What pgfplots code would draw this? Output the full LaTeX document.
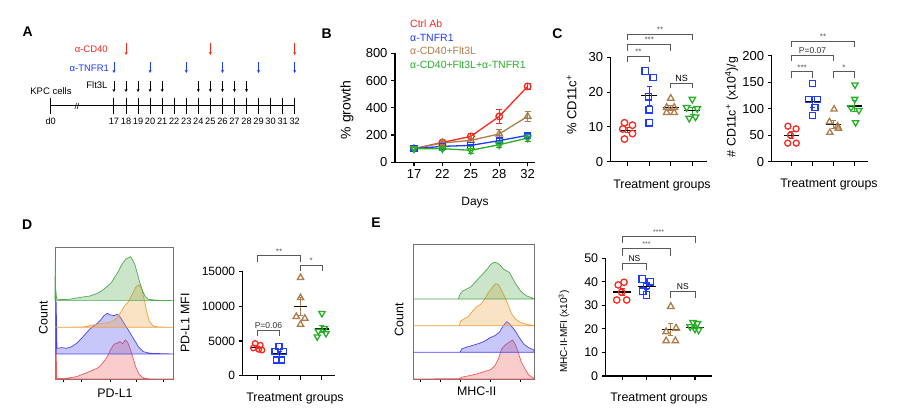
\documentclass[border=0pt]{standalone}
\usepackage{pgfplots}
\pgfplotsset{compat=1.18}
\usepackage{fontspec}
\setmainfont{Liberation Sans}
\usetikzlibrary{arrows.meta}
\definecolor{cR}{RGB}{250,40,30}
\definecolor{cB}{RGB}{30,60,250}
\definecolor{cN}{RGB}{175,125,75}
\definecolor{cG}{RGB}{40,175,40}
\definecolor{hG}{RGB}{80,170,80}
\definecolor{hO}{RGB}{240,160,60}
\definecolor{hB}{RGB}{70,70,240}
\definecolor{hR}{RGB}{240,90,90}
\newcommand{\fs}[1]{\fontsize{#1}{#1}\selectfont}
\pgfplotsset{
  /pgf/number format/assume math mode=true,
  /pgf/number format/1000 sep={},
  dotax/.style={scale only axis, anchor=south west, axis x line*=bottom, axis y line*=left,
    axis line style={line width=1.1pt}, tick style={black, line width=1.1pt},
    tick align=outside, major tick length=4pt, xtick={0,1,2,3}, xticklabels={},
    ymin=0, clip=false, scaled y ticks=false,
    yticklabel style={font=\fs{13}}, xticklabel style={font=\fs{13}}},
  histax/.style={scale only axis, anchor=south west, y dir=reverse,
    axis line style={black!55, line width=0.8pt},
    ytick=\empty, xticklabels={}, xtick pos=bottom, tick align=outside,
    major tick length=2.5pt, minor tick length=1.5pt, minor x tick num=4,
    tick style={black, line width=0.5pt}, clip=false},
  mR/.style={cR, only marks, mark=o, mark options={line width=1.3pt}},
  mB/.style={cB, only marks, mark=square, mark options={line width=1.3pt}},
  mN/.style={cN, only marks, mark=triangle, mark options={line width=1.3pt}},
  mG/.style={cG, only marks, mark=triangle, mark options={line width=1.3pt, rotate=180}},
  meanl/.style={black, line width=1.1pt},
  br/.style={black!65, line width=0.7pt},
  sem/.style={color=#1, mark=none, line width=1pt, error bars/.cd, y dir=both, y explicit,
    error bar style={line width=1pt}, error mark options={rotate=90, mark size=2.5pt, line width=1pt}},
}
\begin{document}
\begin{tikzpicture}
\useasboundingbox (0pt,0pt) rectangle (909pt,415pt);
\fill[white] (0pt,0pt) rectangle (909pt,415pt);

% ---------------- Panel A ----------------
\begin{axis}[at={(50.7pt,289pt)}, anchor=south west, scale only axis, width=244pt, height=90pt,
  xmin=11.75, xmax=32, ymin=-20, ymax=70, axis lines=none, clip=false]
\addplot[black, line width=1pt] coordinates {(11.75,0) (32,0)};
\addplot[black, line width=1pt, quiver={u=0,v=16}] coordinates {(11.75,-8) (17,-8) (18,-8) (19,-8) (20,-8) (21,-8) (22,-8) (23,-8) (24,-8) (25,-8) (26,-8) (27,-8) (28,-8) (29,-8) (30,-8) (31,-8) (32,-8)};
\addplot[black, line width=0.8pt, quiver={u=0,v=-11}, -{Stealth[length=3pt,width=3pt]}] coordinates {(17,25) (18,25) (19,25) (20,25) (21,25) (24,25) (25,25) (26,25) (27,25) (28,25)};
\addplot[cB, line width=0.8pt, quiver={u=0,v=-11}, -{Stealth[length=3pt,width=3pt]}] coordinates {(17,44) (20,44) (23,44) (26,44) (29,44) (32,44)};
\addplot[cR, line width=0.8pt, quiver={u=0,v=-12}, -{Stealth[length=3pt,width=3pt]}] coordinates {(18,63) (25,63) (32,63)};
\addplot[draw=none, point meta=explicit symbolic, nodes near coords,
  every node near coord/.append style={font=\fs{9.2}, anchor=center, inner sep=0pt}]
  coordinates {(11.75,-15)[d0] (17,-15)[17] (18,-15)[18] (19,-15)[19] (20,-15)[20] (21,-15)[21] (22,-15)[22] (23,-15)[23] (24,-15)[24] (25,-15)[25] (26,-15)[26] (27,-15)[27] (28,-15)[28] (29,-15)[29] (30,-15)[30] (31,-15)[31] (32,-15)[32]};
\node[font=\fs{8.5}] at (axis cs:13.93,0) {//};
\node[font=\fs{9.5}] at (axis cs:11.77,15) {KPC cells};
\node[font=\fs{9.5}] at (axis cs:15.59,21) {Flt3L};
\node[font=\fs{9.5}, text=cB, anchor=east, inner sep=0pt] at (axis cs:16.6,38) {α-TNFR1};
\node[font=\fs{9.5}, text=cR, anchor=east, inner sep=0pt] at (axis cs:16.5,57) {α-CD40};
\end{axis}

% ---------------- Panel B ----------------
\begin{axis}[dotax, at={(395pt,252.7pt)}, width=140pt, height=109pt,
  xmin=-0.67, xmax=4.26, ymax=800, ytick={0,200,400,600,800},
  xtick={0,1,2,3,4}, xticklabels={17,22,25,28,32}]
\addplot[cR, line width=1.3pt, mark=o, mark size=3.3pt, mark options={line width=1.3pt},
  error bars/.cd, y dir=both, y explicit, error bar style={line width=1pt}, error mark options={rotate=90, mark size=3pt, line width=1pt}]
  coordinates {(0,100)+-(0,6) (1,146)+-(0,12) (2,190)+-(0,18) (3,337)+-(0,51) (4,557)+-(0,24)};
\addplot[cN, line width=1.3pt, mark=triangle, mark size=3.8pt, mark options={line width=1.3pt},
  error bars/.cd, y dir=both, y explicit, error bar style={line width=1pt}, error mark options={rotate=90, mark size=3pt, line width=1pt}]
  coordinates {(0,100)+-(0,6) (1,142)+-(0,10) (2,161)+-(0,15) (3,208)+-(0,30) (4,337)+-(0,39)};
\addplot[cB, line width=1.3pt, mark=square, mark size=3pt, mark options={line width=1.3pt},
  error bars/.cd, y dir=both, y explicit, error bar style={line width=1pt}, error mark options={rotate=90, mark size=3pt, line width=1pt}]
  coordinates {(0,100)+-(0,6) (1,117)+-(0,8) (2,124)+-(0,10) (3,159)+-(0,12) (4,198)+-(0,15)};
\addplot[cG, line width=1.3pt, mark=triangle, mark size=3.8pt, mark options={line width=1.3pt, rotate=180},
  error bars/.cd, y dir=both, y explicit, error bar style={line width=1pt}, error mark options={rotate=90, mark size=3pt, line width=1pt}]
  coordinates {(0,100)+-(0,6) (1,100)+-(0,10) (2,88)+-(0,25) (3,129)+-(0,20) (4,178)+-(0,25)};
\end{axis}

% ---------------- Panel C left ----------------
\begin{axis}[dotax, at={(610.7pt,253.3pt)}, width=96pt, height=104.3pt,
  xmin=-0.79, xmax=3.67, ymax=30, ytick={0,10,20,30}]
\addplot[mR, mark size=3.3pt] coordinates {(-0.15,11.2) (0.22,10.5) (-0.23,9.4) (0.22,8.1) (-0.15,6.5)};
\addplot[mB, mark size=3.2pt] coordinates {(0.81,26.1) (1.19,24.2) (0.97,18.7) (1,14.9) (1,11.2)};
\addplot[mN, mark size=3.8pt] coordinates {(2,18.2) (1.81,15.6) (2.16,15.6) (1.81,14.1) (2.16,14.1)};
\addplot[mG, mark size=3.8pt] coordinates {(3,18) (2.74,15.6) (3.23,15.3) (2.86,12.5) (3.15,12.9)};
\addplot[sem=cB] coordinates {(1,19.0)+-(0,2.7)};
\addplot[sem=cN] coordinates {(2,15.5)+-(0,0.8)};
\addplot[sem=cG] coordinates {(3,14.7)+-(0,1.0)};
\addplot[sem=cR] coordinates {(0,9.1)+-(0,0.8)};
\addplot[meanl] coordinates {(-0.37,9.1) (0.37,9.1)};
\addplot[meanl] coordinates {(0.63,19.0) (1.37,19.0)};
\addplot[meanl] coordinates {(1.63,15.5) (2.37,15.5)};
\addplot[meanl] coordinates {(2.63,14.7) (3.37,14.7)};
\addplot[br] coordinates {(0,28.8) (0,30.4) (1,30.4) (1,28.8)};
\addplot[br] coordinates {(0,31.9) (0,33.8) (2,33.8) (2,31.9)};
\addplot[br] coordinates {(0,35.0) (0,36.7) (3,36.7) (3,35.0)};
\addplot[br] coordinates {(2,21.2) (2,22.6) (3,22.6) (3,21.2)};
\node[font=\fs{8}, text=black!65, anchor=south, inner sep=1pt] at (axis cs:0.5,30.4) {**};
\node[font=\fs{8}, text=black!65, anchor=south, inner sep=1pt] at (axis cs:1,33.8) {***};
\node[font=\fs{8}, text=black!65, anchor=south, inner sep=1pt] at (axis cs:1.5,36.7) {**};
\node[font=\fs{9}, anchor=south, inner sep=1.5pt] at (axis cs:2.5,22.6) {NS};
\end{axis}

% ---------------- Panel C right ----------------
\begin{axis}[dotax, at={(771.7pt,253.3pt)}, width=96.6pt, height=106pt,
  xmin=-0.957, xmax=3.67, ymax=200, ytick={0,50,100,150,200}]
\addplot[mR, mark size=3pt] coordinates {(-0.18,67) (0.21,62) (-0.06,50) (-0.19,35) (0.22,35)};
\addplot[mB, mark size=3pt] coordinates {(1,148) (0.81,118) (1.24,118) (1.11,102.5) (1,87)};
\addplot[mN, mark size=3.6pt] coordinates {(2.03,99) (1.81,75) (2.2,67) (1.83,55) (2.24,63)};
\addplot[mG, mark size=3.6pt] coordinates {(3.03,145) (3.02,118) (2.84,102) (3.22,97) (3.06,74)};
\addplot[sem=cR] coordinates {(0,50)+-(0,6.5)};
\addplot[sem=cB] coordinates {(1,113)+-(0,10)};
\addplot[sem=cN] coordinates {(2,70)+-(0,7.5)};
\addplot[sem=cG] coordinates {(3,105)+-(0,11)};
\addplot[meanl] coordinates {(-0.37,50) (0.37,50)};
\addplot[meanl] coordinates {(0.63,113) (1.37,113)};
\addplot[meanl] coordinates {(1.63,70) (2.37,70)};
\addplot[meanl] coordinates {(2.63,105) (3.37,105)};
\addplot[br] coordinates {(0,157) (0,170) (1,170) (1,157)};
\addplot[br] coordinates {(2,157) (2,170) (3,170) (3,157)};
\addplot[br] coordinates {(0,190.5) (0,200) (2,200) (2,190.5)};
\addplot[br] coordinates {(0,217) (0,227.7) (3,227.7) (3,217)};
\node[font=\fs{8}, text=black!65, anchor=south, inner sep=1pt] at (axis cs:0.5,170) {***};
\node[font=\fs{8}, text=black!65, anchor=south, inner sep=1pt] at (axis cs:2.5,170) {*};
\node[font=\fs{8.5}, text=black!80, anchor=south, inner sep=1.5pt] at (axis cs:1,200) {P=0.07};
\node[font=\fs{8}, text=black!65, anchor=south, inner sep=1pt] at (axis cs:1.5,227.7) {**};
\end{axis}

% ---------------- Panel D histogram ----------------
\begin{axis}[histax, at={(55pt,35.7pt)}, width=118.3pt, height=132pt,
  xmin=165, xmax=520, ymin=127, ymax=523, xtick={190,245,330,410,490}]
\addplot[draw=hR, line width=0.7pt, fill=hR, fill opacity=0.3] coordinates {(167,522) (167.5,360) (170,521) (200,520) (230,515) (255,505) (275,497) (295,488) (310,472) (322,455) (333,432) (342,418) (352,414) (360,410) (368,416) (376,405) (383,412) (390,430) (398,455) (407,485) (417,508) (430,519) (450,522) (520,522)} -- cycle;
\addplot[draw=hB, line width=0.7pt, fill=hB, fill opacity=0.3] coordinates {(168,447) (168.5,290) (171,430) (185,428) (200,430) (215,425) (230,415) (245,400) (258,385) (270,372) (282,362) (292,355) (302,345) (312,332) (322,325) (332,330) (342,332) (352,328) (362,338) (372,355) (385,375) (400,400) (415,425) (430,440) (450,445) (520,447)} -- cycle;
\addplot[draw=hO, line width=0.7pt, fill=hO, fill opacity=0.3] coordinates {(165,367) (250,366) (290,358) (320,354) (340,348) (352,338) (362,322) (372,305) (385,290) (395,272) (403,255) (410,243) (418,240) (425,252) (432,280) (440,320) (448,348) (458,362) (475,366) (520,367)} -- cycle;
\addplot[draw=hG, line width=0.7pt, fill=hG, fill opacity=0.3] coordinates {(165,287) (165.5,165) (167,250) (170,283) (200,284) (250,276) (270,273) (290,266) (305,258) (320,246) (335,232) (345,215) (355,200) (362,185) (370,172) (378,162) (386,158) (392,155) (398,165) (405,180) (412,205) (420,235) (428,258) (436,275) (445,283) (470,286) (520,287)} -- cycle;
\end{axis}

% ---------------- Panel D scatter ----------------
\begin{axis}[dotax, at={(242.7pt,39.3pt)}, width=92.3pt, height=104pt,
  xmin=-0.70, xmax=3.61, ymax=15000, ytick={0,5000,10000,15000},
  yticklabel style={font=\fs{12}}]
\addplot[mR, mark size=2.8pt] coordinates {(-0.12,4650) (0.12,4400) (-0.2,4000) (0.05,3800) (0.2,3700)};
\addplot[mB, mark size=3pt] coordinates {(1,4180) (0.81,3460) (1.2,3460) (0.89,2260) (1.12,2260)};
\addplot[mN, mark size=3.6pt] coordinates {(2,14135) (2,11250) (1.8,8510) (2.2,8270) (2,7400)};
\addplot[mG, mark size=3.6pt] coordinates {(3,8990) (2.83,6440) (3.12,6830) (2.78,5625) (3.19,6100)};
\addplot[sem=cR] coordinates {(0,4040)+-(0,180)};
\addplot[sem=cB] coordinates {(1,3125)+-(0,400)};
\addplot[sem=cN] coordinates {(2,9950)+-(0,1300)};
\addplot[sem=cG] coordinates {(3,6730)+-(0,550)};
\addplot[meanl] coordinates {(-0.31,4040) (0.31,4040)};
\addplot[meanl] coordinates {(0.69,3125) (1.31,3125)};
\addplot[meanl] coordinates {(1.69,9950) (2.31,9950)};
\addplot[meanl] coordinates {(2.69,6730) (3.31,6730)};
\addplot[br] coordinates {(0,16442) (0,17308) (2,17308) (2,16442)};
\addplot[br] coordinates {(2,15144) (2,15966) (3,15966) (3,15144)};
\addplot[br] coordinates {(0,5769) (0,6591) (1,6591) (1,5769)};
\node[font=\fs{8}, text=black!65, anchor=south, inner sep=1pt] at (axis cs:1,17308) {**};
\node[font=\fs{8}, text=black!65, anchor=south, inner sep=1pt] at (axis cs:2.5,15966) {*};
\node[font=\fs{8.5}, text=black!80, anchor=south, inner sep=1.5pt] at (axis cs:0.5,6591) {P=0.06};
\end{axis}

% ---------------- Panel E histogram ----------------
\begin{axis}[histax, at={(413.3pt,36pt)}, width=120.7pt, height=135pt,
  xmin=10, xmax=372, ymin=117, ymax=522, xtick={30,90,150,240,330}]
\addplot[draw=hR, line width=0.7pt, fill=hR, fill opacity=0.3] coordinates {(10,522) (148,521) (158,516) (178,512) (200,507) (222,500) (242,494) (255,482) (265,462) (275,432) (285,420) (297,412) (308,405) (316,418) (324,440) (334,472) (345,492) (356,510) (372,520) (372,522)} -- cycle;
\addplot[draw=hB, line width=0.7pt, fill=hB, fill opacity=0.3] coordinates {(10,442) (150,442) (155,432) (168,427) (185,422) (205,416) (225,408) (240,398) (255,392) (268,382) (280,362) (290,350) (298,356) (306,366) (316,378) (328,398) (342,418) (356,428) (372,435) (372,442)} -- cycle;
\addplot[draw=hO, line width=0.7pt, fill=hO, fill opacity=0.3] coordinates {(10,362) (148,362) (152,348) (162,342) (175,335) (188,318) (200,305) (212,298) (224,282) (236,262) (248,245) (258,236) (266,240) (274,255) (284,275) (294,298) (304,325) (316,342) (332,352) (350,358) (372,362)} -- cycle;
\addplot[draw=hG, line width=0.7pt, fill=hG, fill opacity=0.3] coordinates {(10,282) (145,282) (150,268) (158,258) (170,252) (182,246) (195,232) (208,218) (220,205) (232,192) (242,178) (252,172) (262,174) (272,182) (280,192) (290,198) (298,202) (305,215) (318,238) (332,258) (348,272) (372,281) (372,282)} -- cycle;
\end{axis}

% ---------------- Panel E scatter ----------------
\begin{axis}[dotax, at={(605.7pt,39pt)}, width=106pt, height=117.7pt,
  xmin=-0.686, xmax=3.69, ymax=50, ytick={0,10,20,30,40,50},
  yticklabel style={font=\fs{12.5}}]
\addplot[mR, mark size=3.2pt] coordinates {(0.07,39.8) (-0.17,38.7) (-0.03,35.6) (-0.23,32.3) (0.18,32.3)};
\addplot[mB, mark size=3.2pt] coordinates {(0.82,41.2) (1.15,40) (1,38.5) (0.85,36) (1,34.4)};
\addplot[mN, mark size=3.8pt] coordinates {(2,29.5) (2.22,20.3) (1.81,18.8) (1.81,14.9) (2.19,14.9)};
\addplot[mG, mark size=3.8pt] coordinates {(2.92,22.8) (3.1,22.3) (2.8,21) (3,20) (3.15,19.6)};
\addplot[sem=cR] coordinates {(0,35.7)+-(0,1.5)};
\addplot[sem=cB] coordinates {(1,38.2)+-(0,1.3)};
\addplot[sem=cN] coordinates {(2,19.8)+-(0,2.6)};
\addplot[sem=cG] coordinates {(3,20.7)+-(0,0.7)};
\addplot[meanl] coordinates {(-0.37,35.7) (0.37,35.7)};
\addplot[meanl] coordinates {(0.63,38.2) (1.37,38.2)};
\addplot[meanl] coordinates {(1.63,19.8) (2.37,19.8)};
\addplot[meanl] coordinates {(2.63,20.7) (3.37,20.7)};
\addplot[br] coordinates {(0,56.7) (0,59.5) (3,59.5) (3,56.7)};
\addplot[br] coordinates {(0,51.1) (0,54.3) (2,54.3) (2,51.1)};
\addplot[br] coordinates {(0,45.0) (0,47.9) (1,47.9) (1,45.0)};
\addplot[br] coordinates {(2,33.3) (2,36.1) (3,36.1) (3,33.3)};
\node[font=\fs{7}, text=black!65, anchor=south, inner sep=1pt] at (axis cs:1.5,59.5) {****};
\node[font=\fs{7}, text=black!65, anchor=south, inner sep=1pt] at (axis cs:1,54.3) {***};
\node[font=\fs{8.5}, anchor=south, inner sep=1.5pt] at (axis cs:0.5,47.9) {NS};
\node[font=\fs{8.5}, anchor=south, inner sep=1.5pt] at (axis cs:2.5,36.1) {NS};
\end{axis}

% ---------------- Text labels ----------------
\node[font=\bfseries\fs{14}] at (27.7pt,383.3pt) {A};
\node[font=\bfseries\fs{14}] at (326.7pt,381.7pt) {B};
\node[font=\bfseries\fs{14}] at (557.3pt,381.7pt) {C};
\node[font=\bfseries\fs{14}] at (27.3pt,190pt) {D};
\node[font=\bfseries\fs{14}] at (376pt,192pt) {E};
% B legend
\node[font=\fs{10.5}, text=cR, anchor=west, inner sep=0pt] at (410pt,391pt) {Ctrl Ab};
\node[font=\fs{10.5}, text=cB, anchor=west, inner sep=0pt] at (410pt,377.5pt) {α-TNFR1};
\node[font=\fs{10.5}, text=cN, anchor=west, inner sep=0pt] at (410pt,364pt) {α-CD40+Flt3L};
\node[font=\fs{10.5}, text=cG, anchor=west, inner sep=0pt] at (410pt,350.5pt) {α-CD40+Flt3L+α-TNFR1};
\node[font=\fs{14}, rotate=90] at (347pt,305pt) {\% growth};
\node[font=\fs{12}] at (475pt,212pt) {Days};
\node[font=\fs{13}, rotate=90] at (571.7pt,310pt) {\% CD11c\textsuperscript{+}};
\node[font=\fs{12.4}] at (662pt,229pt) {Treatment groups};
\node[font=\fs{12.4}, rotate=90] at (731.7pt,308pt) {\# CD11c\textsuperscript{+} (x10\textsuperscript{4})/g};
\node[font=\fs{12.4}] at (829pt,230pt) {Treatment groups};
\node[font=\fs{12.4}, rotate=90] at (43.3pt,97pt) {Count};
\node[font=\fs{12.4}] at (115pt,21.7pt) {PD-L1};
\node[font=\fs{12.4}, rotate=90] at (185pt,92pt) {PD-L1 MFI};
\node[font=\fs{12.4}] at (295pt,16pt) {Treatment groups};
\node[font=\fs{12.4}, rotate=90] at (399pt,95pt) {Count};
\node[font=\fs{12.4}] at (476.7pt,23.3pt) {MHC-II};
\node[font=\fs{10}, rotate=90] at (564pt,83.3pt) {MHC-II-MFI (x10\textsuperscript{3})};
\node[font=\fs{12.4}] at (659pt,16.7pt) {Treatment groups};
\end{tikzpicture}
\end{document}
